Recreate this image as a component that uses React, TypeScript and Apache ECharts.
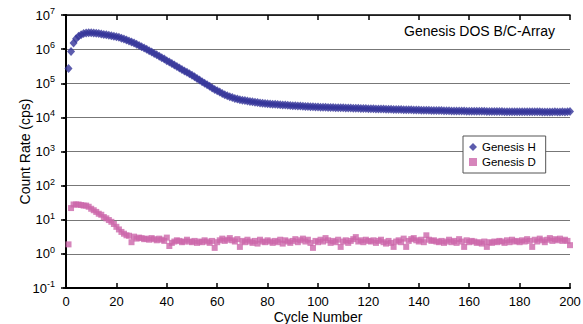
import React, { useEffect, useRef } from "react";
import * as echarts from "echarts";

const FONT = "Liberation Sans, Arial, sans-serif";

const seriesNames = ["Genesis H", "Genesis D"];
const xTicks = [0, 20, 40, 60, 80, 100, 120, 140, 160, 180, 200];

// Genesis H count rate (cps), cycles 1..200
const genesisH = [
  2.7e5, 8.5e5, 1.5e6, 2.0e6, 2.4e6, 2.65e6, 2.85e6, 2.95e6, 3.0e6, 3.0e6,
  2.97e6, 2.92e6, 2.85e6, 2.78e6, 2.7e6, 2.62e6, 2.55e6, 2.47e6, 2.4e6, 2.32e6,
  2.22e6, 2.1e6, 1.98e6, 1.86e6, 1.74e6, 1.62e6, 1.5e6, 1.4e6, 1.28e6, 1.18e6,
  1.08e6, 9.9e5, 9.0e5, 8.2e5, 7.5e5, 6.8e5, 6.2e5, 5.6e5, 5.1e5, 4.6e5,
  4.2e5, 3.8e5, 3.45e5, 3.1e5, 2.8e5, 2.55e5, 2.3e5, 2.1e5, 1.9e5, 1.72e5,
  1.55e5, 1.38e5, 1.24e5, 1.11e5, 1.0e5, 9.0e4, 8.1e4, 7.3e4, 6.6e4, 6.0e4,
  5.5e4, 5.0e4, 4.6e4, 4.3e4, 4.0e4, 3.8e4, 3.6e4, 3.45e4, 3.3e4, 3.2e4,
  3.1e4, 3.0e4, 2.92e4, 2.85e4, 2.78e4, 2.72e4, 2.66e4, 2.6e4, 2.55e4, 2.5e4,
  2.47e4, 2.44e4, 2.41e4, 2.38e4, 2.35e4, 2.32e4, 2.29e4, 2.26e4, 2.23e4, 2.2e4,
  2.18e4, 2.16e4, 2.14e4, 2.12e4, 2.1e4, 2.08e4, 2.06e4, 2.04e4, 2.02e4, 2.0e4,
  1.99e4, 1.98e4, 1.97e4, 1.96e4, 1.95e4, 1.94e4, 1.93e4, 1.92e4, 1.91e4, 1.9e4,
  1.89e4, 1.88e4, 1.87e4, 1.86e4, 1.85e4, 1.84e4, 1.83e4, 1.82e4, 1.81e4, 1.8e4,
  1.79e4, 1.78e4, 1.77e4, 1.76e4, 1.76e4, 1.75e4, 1.74e4, 1.73e4, 1.72e4, 1.71e4,
  1.7e4, 1.7e4, 1.69e4, 1.68e4, 1.67e4, 1.67e4, 1.66e4, 1.65e4, 1.64e4, 1.64e4,
  1.63e4, 1.62e4, 1.62e4, 1.61e4, 1.6e4, 1.6e4, 1.59e4, 1.58e4, 1.58e4, 1.57e4,
  1.56e4, 1.56e4, 1.55e4, 1.55e4, 1.54e4, 1.54e4, 1.53e4, 1.53e4, 1.52e4, 1.52e4,
  1.52e4, 1.51e4, 1.51e4, 1.5e4, 1.5e4, 1.5e4, 1.49e4, 1.49e4, 1.49e4, 1.48e4,
  1.48e4, 1.48e4, 1.48e4, 1.47e4, 1.47e4, 1.47e4, 1.47e4, 1.46e4, 1.46e4, 1.46e4,
  1.46e4, 1.46e4, 1.45e4, 1.45e4, 1.45e4, 1.45e4, 1.45e4, 1.45e4, 1.44e4, 1.44e4,
  1.44e4, 1.44e4, 1.44e4, 1.45e4, 1.44e4, 1.44e4, 1.45e4, 1.44e4, 1.45e4, 1.48e4,
];

// Genesis D count rate (cps), cycles 1..200
const genesisD = [
  1.9, 22, 28, 28, 28, 27, 26, 26, 24, 21,
  19, 17, 15, 14, 12, 11, 9.8, 8.7, 7.5, 6.2,
  5.2, 4.4, 3.9, 3.5, 3.4, 2.2, 3.2, 2.8, 3.0, 2.9,
  2.7, 2.8, 2.6, 2.9, 2.7, 2.5, 2.8, 2.6, 2.4, 3.0,
  1.7, 2.1, 2.3, 2.5, 2.4, 2.2, 2.3, 2.6, 2.3, 2.2,
  2.4, 2.1, 2.3, 2.2, 2.5, 2.3, 2.1, 2.4, 1.5, 2.2,
  2.5, 2.8, 2.4, 2.6, 2.9, 2.5, 2.3, 2.7, 1.6, 2.4,
  2.2, 2.6, 2.3, 2.1, 2.4, 2.0, 2.6, 2.3, 2.2, 2.5,
  2.3, 2.1, 2.4, 2.2, 2.6, 2.0, 2.5, 2.3, 2.1, 2.4,
  2.7, 2.2, 2.5, 2.8, 2.3, 2.6, 2.1, 1.5, 2.4, 2.2,
  2.6, 2.3, 2.9, 2.5, 2.1, 2.4, 2.2, 2.6, 1.6, 2.3,
  2.5, 2.1, 2.4, 2.7, 3.1, 2.3, 2.5, 2.2, 2.6, 2.4,
  2.3, 2.5, 2.1, 2.4, 2.6, 2.2, 2.0, 2.4, 2.1, 1.6,
  2.3, 2.5, 2.2, 2.8, 1.6, 2.4, 2.7, 2.9, 2.5, 2.3,
  2.6, 2.2, 3.5, 2.6, 2.4, 2.5, 2.3, 2.2, 2.4, 2.1,
  2.3, 2.6, 2.2, 2.4, 2.1, 2.7, 2.3, 1.6, 2.5, 2.2,
  2.4, 2.3, 2.1, 2.2, 2.0, 2.3, 1.6, 2.2, 2.1, 2.3,
  2.2, 2.4, 2.3, 2.1, 2.5, 2.2, 2.6, 2.3, 2.4, 2.2,
  2.5, 2.3, 2.7, 2.4, 1.6, 2.6, 2.3, 2.8, 2.5, 2.2,
  2.6, 2.9, 2.4, 2.7, 2.5, 2.8, 2.4, 2.6, 2.4, 1.8,
];

export default function App() {
  const ref = useRef<HTMLDivElement>(null);
  useEffect(() => {
    if (!ref.current) return;
    const chart = echarts.init(ref.current, null, { renderer: "svg" });
    const hData = genesisH.map((v, i) => [i + 1, v]);
    const dData = genesisD.map((v, i) => [i + 1, v]);
    chart.setOption({
      animation: false,
      textStyle: { fontFamily: FONT },
      grid: { left: 66, right: 13, top: 15, bottom: 36, outerBoundsMode: "none", containLabel: false },
      legend: {
        orient: "vertical",
        left: 463,
        top: 136,
        backgroundColor: "#fff",
        borderColor: "#555",
        borderWidth: 1,
        padding: [5, 10, 5, 6],
        itemGap: 3,
        itemWidth: 8,
        itemHeight: 8,
        itemTextGap: 6,
        textStyle: { fontSize: 11.5, color: "#000", fontFamily: FONT },
        data: [
          { name: seriesNames[0], icon: "diamond" },
          { name: seriesNames[1], icon: "rect" },
        ],
      },
      graphic: [
        {
          type: "text",
          right: 28,
          top: 24,
          style: {
            text: "Genesis DOS B/C-Array",
            fontSize: 14,
            fill: "#000",
            fontFamily: FONT,
          },
        },
      ],
      xAxis: [
        {
          type: "value",
          min: xTicks[0],
          max: xTicks[xTicks.length - 1],
          interval: 20,
          position: "bottom",
          name: "Cycle Number",
          nameLocation: "middle",
          nameGap: 22,
          nameMoveOverlap: false,
          nameTextStyle: { fontSize: 14, color: "#000", fontFamily: FONT },
          axisLine: { lineStyle: { color: "#000", width: 2 } },
          axisTick: { inside: true, length: 5, lineStyle: { color: "#000", width: 1.5 } },
          axisLabel: { color: "#000", fontSize: 13, margin: 7, fontFamily: FONT },
          splitLine: { show: false },
        },
        {
          type: "value",
          min: xTicks[0],
          max: xTicks[xTicks.length - 1],
          interval: 20,
          position: "top",
          axisLine: { lineStyle: { color: "#000", width: 1.5 } },
          axisTick: { inside: true, length: 5, lineStyle: { color: "#000", width: 1.5 } },
          axisLabel: { show: false },
          splitLine: { show: false },
        },
      ],
      yAxis: [
        {
          type: "log",
          logBase: 10,
          min: 0.1,
          max: 1e7,
          interval: 1,
          splitNumber: 8,
          position: "left",
          name: "Count Rate (cps)",
          nameLocation: "middle",
          nameGap: 34,
          nameMoveOverlap: false,
          nameTextStyle: { fontSize: 14, color: "#000", fontFamily: FONT },
          axisLine: { lineStyle: { color: "#000", width: 2 } },
          axisTick: { inside: false, length: 3, lineStyle: { color: "#000", width: 1.5 } },
          axisLabel: {
            margin: 11,
            formatter: (v: number) => {
              const e = Math.round(Math.log10(v));
              return `{b|10}{s|${e}}`;
            },
            rich: {
              b: { fontSize: 13, color: "#000", fontFamily: FONT },
              s: { fontSize: 9, color: "#000", fontFamily: FONT, padding: [0, 0, 8, 0] },
            },
          },
          splitLine: { show: true, lineStyle: { color: "#777", width: 1 } },
        },
        {
          type: "log",
          logBase: 10,
          min: 0.1,
          max: 1e7,
          interval: 1,
          splitNumber: 8,
          position: "right",
          axisLine: { lineStyle: { color: "#000", width: 2 } },
          axisTick: { inside: true, length: 5, lineStyle: { color: "#000", width: 1.5 } },
          axisLabel: { show: false },
          splitLine: { show: false },
        },
      ],
      series: [
        {
          name: seriesNames[0],
          type: "scatter",
          symbol: "diamond",
          symbolSize: [8, 9],
          itemStyle: { color: "#333399" },
          data: hData,
          z: 3,
        },
        {
          name: seriesNames[1],
          type: "scatter",
          symbol: "rect",
          symbolSize: 6,
          itemStyle: { color: "#cc66aa" },
          data: dData,
          z: 3,
        },
      ],
    });
    return () => chart.dispose();
  }, []);
  return (
    <div
      ref={ref}
      style={{ position: "fixed", left: 0, top: 0, width: 583, height: 324, background: "#fff" }}
    />
  );
}
